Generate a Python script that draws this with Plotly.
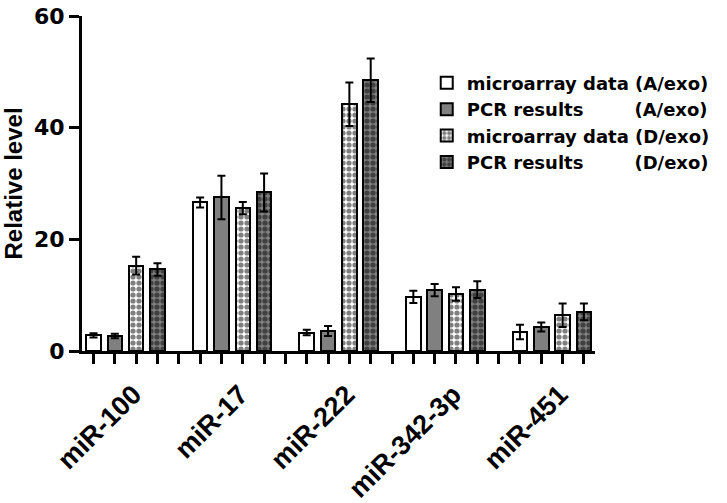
import plotly.graph_objects as go

mirnas = ['miR-100', 'miR-17', 'miR-222', 'miR-342-3p', 'miR-451']
series = ['microarray data (A/exo)', 'PCR results (A/exo)',
          'microarray data (D/exo)', 'PCR results (D/exo)']

micro_a = [2.8, 26.6, 3.3, 9.7, 3.4]
pcr_a = [2.7, 27.5, 3.6, 10.9, 4.3]
micro_d = [15.3, 25.6, 44.2, 10.2, 6.4]
pcr_d = [14.6, 28.4, 48.5, 11.0, 7.0]

err_micro_a = [0.4, 0.9, 0.5, 1.1, 1.3]
err_pcr_a = [0.4, 3.9, 0.9, 1.1, 0.8]
err_micro_d = [1.6, 1.1, 3.9, 1.2, 2.1]
err_pcr_d = [1.1, 3.4, 3.9, 1.5, 1.5]

values = [micro_a, pcr_a, micro_d, pcr_d]
errors = [err_micro_a, err_pcr_a, err_micro_d, err_pcr_d]

# legend names padded so the "(x/exo)" parts line up
pad = '\u00a0' * 7 + '\u2009' * 2
legend_names = ['microarray data (A/exo)',
                'PCR results' + pad + '(A/exo)',
                'microarray data (D/exo)',
                'PCR results' + pad + '(D/exo)']

fills = ['white', '#808080', 'white', '#808080']
patterns = ['', '', '.', '.']

fig = go.Figure()
for k in range(4):
    xs = [5 * g + k for g in range(len(mirnas))]  # 4 bars + one empty slot per group
    fig.add_trace(go.Bar(
        x=xs, y=values[k], name=legend_names[k], width=0.68,
        marker=dict(color=fills[k], line=dict(color='black', width=2),
                    pattern=dict(shape=patterns[k], fgcolor='black', bgcolor=fills[k],
                                 size=6, solidity=0.6, fillmode='overlay')),
        error_y=dict(type='data', array=errors[k], color='black', thickness=2, width=4),
    ))

group_centers = [5 * g + 1.5 for g in range(len(mirnas))]

fig.update_layout(
    width=727, height=503,
    margin=dict(l=82, r=130, t=16, b=152),
    plot_bgcolor='white', paper_bgcolor='white',
    barmode='overlay', bargap=0,
    font=dict(family='DejaVu Sans', color='black'),
    showlegend=True,
    legend=dict(x=0.672, y=0.855, xanchor='left', yanchor='top',
                font=dict(family='DejaVu Sans', size=18, weight='bold'),
                bgcolor='rgba(0,0,0,0)', tracegroupgap=0),
)
fig.update_xaxes(
    range=[-0.54, 23.52], showline=True, linecolor='black', linewidth=3,
    tickvals=group_centers, ticktext=mirnas, tickangle=-45, ticks='',
    tickfont=dict(family='Liberation Sans', size=27, weight='bold'),
    ticklabelshift=8, ticklabelstandoff=14, ticklabeloverflow='allow', automargin=False,
    minor=dict(tick0=0, dtick=1, ticks='outside', ticklen=10, tickwidth=3, tickcolor='black'),
    showgrid=False, zeroline=False,
)
fig.update_yaxes(
    range=[0, 60], tickvals=[0, 20, 40, 60], showline=True, linecolor='black', linewidth=3,
    ticks='outside', ticklen=10, tickwidth=3, tickcolor='black',
    tickfont=dict(family='DejaVu Sans', size=22, weight='bold'),
    ticklabeloverflow='allow',
    title=dict(text='\u00a0' * 3 + 'Relative level', standoff=8,
               font=dict(family='Liberation Sans', size=24, weight='bold')),
    automargin=False, showgrid=False, zeroline=False,
)

# drop the default page margin so the figure sits at the window's corner
fig.write_html('out.html', config={'displayModeBar': False},
               post_script="document.body.style.margin='0px';")
